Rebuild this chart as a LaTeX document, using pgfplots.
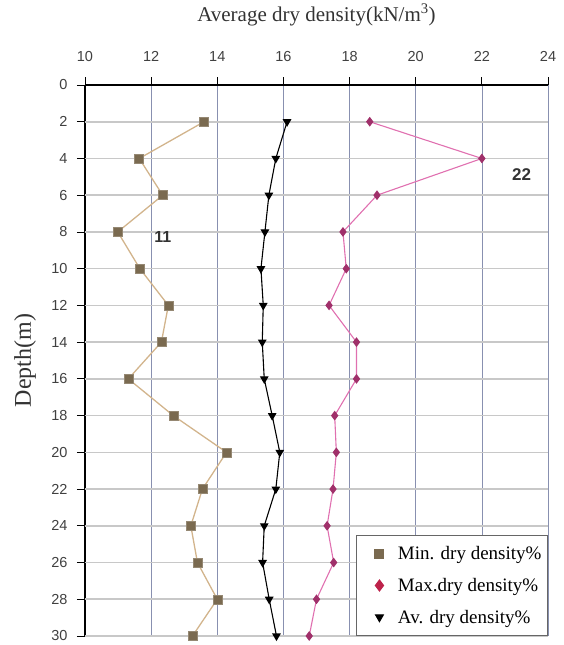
\documentclass[border=0pt]{standalone}
\usepackage{fontspec}
\setmainfont{Liberation Serif}
\setsansfont{Liberation Sans}
\usepackage{pgfplots}
\pgfplotsset{compat=1.18}
\definecolor{minline}{HTML}{D2B48C}
\definecolor{minmark}{HTML}{7A6A50}
\definecolor{maxline}{HTML}{E070B0}
\definecolor{maxmark}{HTML}{A0306A}
\definecolor{vgrid}{HTML}{8890B0}
\definecolor{hgrid}{HTML}{C8C8C8}
\begin{document}
\begin{tikzpicture}
\begin{axis}[
  scale only axis, width=463pt, height=551pt,
  xmin=10, xmax=24, ymin=0, ymax=30, y dir=reverse,
  axis x line*=top, axis y line*=left,
  xtick={10,12,...,24}, ytick={0,2,...,30},
  xmajorgrids=true,
  every axis x grid/.style={vgrid, line width=0.6pt},
  x axis line style={line width=1.4pt, -},
  y axis line style={line width=1.2pt, -},
  tick style={black, line width=0.8pt},
  major tick length=8pt,
  tick align=outside,
  ticklabel style={font=\sffamily\fontsize{14.5}{14.5}\selectfont, text=black!75},
  xticklabel shift=12pt,
  yticklabel shift=6pt,
  /pgf/number format/assume math mode=true,
  xlabel={Average dry density(kN/m\textsuperscript{3})},
  xlabel style={at={(axis description cs:0.5,1)}, anchor=center, yshift=70pt,
    font=\fontsize{21}{21}\selectfont, text=black!80},
  ylabel={\fontsize{24}{24}\selectfont Depth(m)},
  ylabel style={at={(axis description cs:0,0.5)}, anchor=center, yshift=60pt,
    text=black!80},
  legend cell align=left,
  legend style={at={(axis description cs:1,0)}, anchor=south east,
    draw=black!60, line width=1pt, font=\fontsize{19}{20}\selectfont,
    inner xsep=4pt, inner ysep=9pt, row sep=13pt},
  clip=false,
]
\pgfplotsinvokeforeach{2,4,6,8,10,12,14,16,18,20,22,24,26,28,30}{
  \draw[hgrid, line width=1.6pt] (axis cs:10,#1) -- (axis cs:24,#1);
}
\addplot[forget plot, minline, line width=1.3pt, mark=square*, mark size=4.5pt,
  mark options={fill=minmark, draw=minmark!80!white, line width=0.5pt}]
  coordinates {(13.6,2) (11.64,4) (12.35,6) (10.99,8) (11.66,10) (12.52,12)
  (12.31,14) (11.31,16) (12.67,18) (14.28,20) (13.55,22) (13.2,24) (13.4,26)
  (14.0,28) (13.25,30)};
\addplot[forget plot, maxline, line width=1.1pt, mark=diamond*, mark size=4pt,
  mark options={fill=maxmark, draw=maxmark}]
  coordinates {(18.61,2) (22.0,4) (18.83,6) (17.80,8) (17.90,10) (17.38,12)
  (18.21,14) (18.21,16) (17.55,18) (17.60,20) (17.50,22) (17.32,24) (17.52,26)
  (17.0,28) (16.78,30)};
\addplot[forget plot, black, line width=1.1pt, mark=triangle*, mark size=4pt,
  mark options={fill=black, rotate=180}]
  coordinates {(16.11,2) (15.77,4) (15.56,6) (15.44,8) (15.32,10) (15.39,12)
  (15.36,14) (15.42,16) (15.66,18) (15.89,20) (15.77,22) (15.42,24) (15.37,26)
  (15.57,28) (15.79,30)};
\addlegendimage{legend image code/.code={
  \draw[only marks, mark=square*, mark size=4.5pt, mark options={fill=minmark, draw=minmark}] plot coordinates {(18pt,0pt)};
  \path (0pt,0pt) (34pt,0pt);}}
\addlegendentry{Min. dry density\%}
\addlegendimage{legend image code/.code={
  \draw[only marks, mark=diamond*, mark size=5.5pt, mark options={fill=maxmark!70!red, draw=maxmark!70!red}] plot coordinates {(18pt,0pt)};
  \path (0pt,0pt) (34pt,0pt);}}
\addlegendentry{Max.dry density\%}
\addlegendimage{legend image code/.code={
  \draw[only marks, mark=triangle*, mark size=4.5pt, mark options={fill=black, draw=black, rotate=180}] plot coordinates {(18pt,0pt)};
  \path (0pt,0pt) (34pt,0pt);}}
\addlegendentry{Av. dry density\%}
\node[font=\sffamily\bfseries\fontsize{16}{16}\selectfont, text=black!80] at (axis cs:12.35,8.3) {11};
\node[font=\sffamily\bfseries\fontsize{17}{17}\selectfont, text=black!80] at (axis cs:23.2,4.9) {22};
\end{axis}
\pgfresetboundingbox
\path (-85pt,-9pt) rectangle (478pt,636pt);
\end{tikzpicture}
\end{document}
